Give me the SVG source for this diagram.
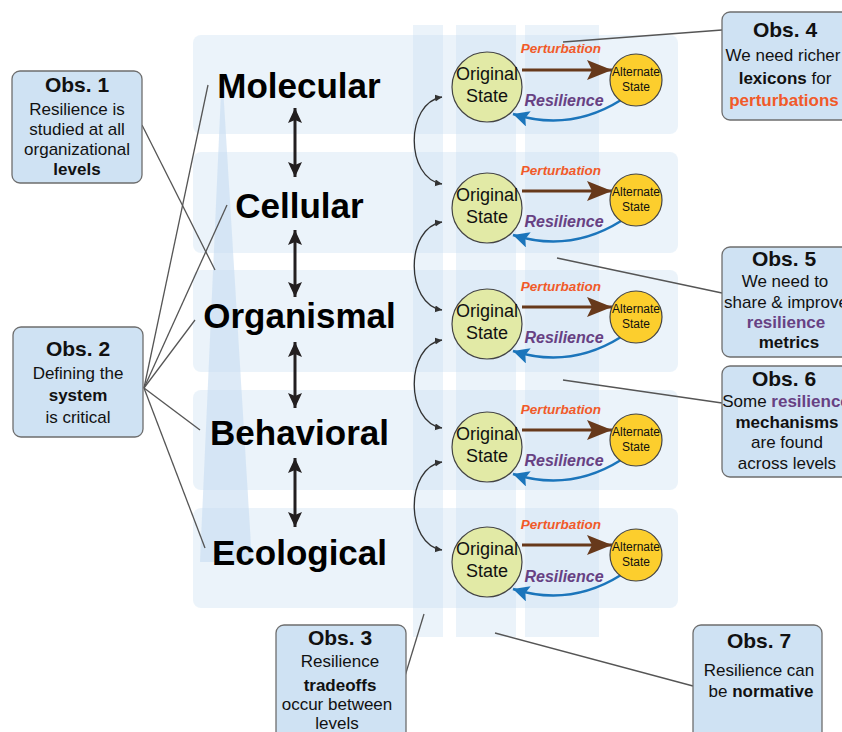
<svg xmlns="http://www.w3.org/2000/svg" width="842" height="732" viewBox="0 0 842 732">
<defs>
<style>
.band{fill:#c6dcf2;fill-opacity:0.35}
.col{fill:#c6dcf2;fill-opacity:0.35}
.tri{fill:#c6dcf2;fill-opacity:0.6}
.lvl{font-family:"Liberation Sans",Arial,sans-serif;font-weight:bold;font-size:35px;fill:#000;text-anchor:middle}
.obs{fill:#cfe2f3;stroke:#6e6e6e;stroke-width:1.3}
.ot{font-family:"Liberation Sans",Arial,sans-serif;font-size:21px;font-weight:bold;fill:#111;text-anchor:middle}
.ob{font-family:"Liberation Sans",Arial,sans-serif;font-size:17px;fill:#111;text-anchor:middle}
.b{font-weight:bold}
.orng{fill:#f15a29;font-weight:bold}
.purp{fill:#674183;font-weight:bold}
.orig{fill:#e2eaa6;stroke:#444;stroke-width:1.2}
.alt{fill:#fcce2d;stroke:#444;stroke-width:1.2}
.os{font-family:"Liberation Sans",Arial,sans-serif;font-size:18px;fill:#111;text-anchor:middle}
.as{font-family:"Liberation Sans",Arial,sans-serif;font-size:12px;fill:#111;text-anchor:middle}
.pl{font-family:"Liberation Sans",Arial,sans-serif;font-size:13.5px;font-weight:bold;font-style:italic;fill:#f15a29;text-anchor:middle}
.rl{font-family:"Liberation Sans",Arial,sans-serif;font-size:16px;font-weight:bold;font-style:italic;fill:#674183;text-anchor:middle}
.pert{stroke:#67391b;stroke-width:3;fill:none;marker-end:url(#aBrown)}
.res{stroke:#1b75bb;stroke-width:2.5;fill:none;marker-end:url(#aBlue)}
.dbl{stroke:#231f20;stroke-width:3;fill:none;marker-start:url(#aBlack);marker-end:url(#aBlack)}
.crv{stroke:#333;stroke-width:1.3;fill:none;marker-start:url(#aSmall);marker-end:url(#aSmall)}
.ln{stroke:#555;stroke-width:1.3;fill:none}
</style>
<marker id="aBlack" markerUnits="userSpaceOnUse" markerWidth="16" markerHeight="14" refX="15" refY="7" orient="auto-start-reverse"><path d="M0,0 L15,7 L0,14 L3,7 z" fill="#231f20"/></marker>
<marker id="aBrown" markerUnits="userSpaceOnUse" markerWidth="26" markerHeight="22" refX="25" refY="10" orient="auto"><path d="M0,0 L25,10 L0,20 L5,10 z" fill="#67391b"/></marker>
<marker id="aBlue" markerUnits="userSpaceOnUse" markerWidth="18" markerHeight="18" refX="16" refY="8" orient="auto"><path d="M0,0 L16,8 L0,16 L3,8 z" fill="#1b75bb"/></marker>
<marker id="aSmall" markerUnits="userSpaceOnUse" markerWidth="8" markerHeight="8" refX="7" refY="3.5" orient="auto-start-reverse"><path d="M0,0 L7,3.5 L0,7 z" fill="#333"/></marker>
</defs>

<g id="background">
<rect class="band" x="193" y="35" width="485" height="99" rx="8"/>
<rect class="band" x="193" y="152" width="485" height="101" rx="8"/>
<rect class="band" x="193" y="270" width="485" height="102" rx="8"/>
<rect class="band" x="193" y="390" width="485" height="100" rx="8"/>
<rect class="band" x="193" y="508" width="485" height="100" rx="8"/>
<rect class="col" x="413" y="25" width="30" height="612"/>
<rect class="col" x="456" y="25" width="60" height="612"/>
<rect class="col" x="525" y="25" width="74" height="612"/>
<polygon class="tri" points="222,70 252,562 200,562"/>
</g>

<g id="connectors">
<line class="ln" x1="142" y1="125" x2="215" y2="270"/>
<line class="ln" x1="144" y1="388" x2="208" y2="85"/>
<line class="ln" x1="144" y1="388" x2="227" y2="205"/>
<line class="ln" x1="144" y1="388" x2="195" y2="320"/>
<line class="ln" x1="144" y1="388" x2="200" y2="430"/>
<line class="ln" x1="144" y1="388" x2="205" y2="548"/>
<line class="ln" x1="405" y1="676" x2="424" y2="614"/>
<line class="ln" x1="563" y1="42" x2="722" y2="30"/>
<line class="ln" x1="557" y1="258" x2="722" y2="293"/>
<line class="ln" x1="563" y1="380" x2="722" y2="403"/>
<line class="ln" x1="495" y1="633" x2="693" y2="686"/>
<line class="dbl" x1="295" y1="108" x2="295" y2="177"/>
<line class="dbl" x1="295" y1="230" x2="295" y2="297"/>
<line class="dbl" x1="295" y1="342" x2="295" y2="408"/>
<line class="dbl" x1="295" y1="458" x2="295" y2="527"/>
<path class="crv" d="M442,97 C405,103 405,178 442,184"/>
<path class="crv" d="M442,222 C405,228 405,304 442,310"/>
<path class="crv" d="M442,340 C405,346 405,422 442,428"/>
<path class="crv" d="M442,462 C405,468 405,544 442,550"/>
<path class="pert" d="M522,70 L612,70"/>
<path class="pert" d="M522,191 L612,191"/>
<path class="pert" d="M522,307 L612,307"/>
<path class="pert" d="M522,430 L612,430"/>
<path class="pert" d="M522,545 L612,545"/>
<path class="res" d="M621,100 Q570,132 513,114"/>
<path class="res" d="M621,221 Q570,253 513,235"/>
<path class="res" d="M621,337 Q570,369 513,351"/>
<path class="res" d="M621,460 Q570,492 513,474"/>
<path class="res" d="M621,575 Q570,607 513,589"/>
</g>

<g id="level-molecular"><text class="lvl" x="299" y="98">Molecular</text></g>
<g id="level-cellular"><text class="lvl" x="299.5" y="218">Cellular</text></g>
<g id="level-organismal"><text class="lvl" x="299.5" y="328">Organismal</text></g>
<g id="level-behavioral"><text class="lvl" x="299.5" y="445">Behavioral</text></g>
<g id="level-ecological"><text class="lvl" x="299.5" y="565">Ecological</text></g>

<g id="row1-labels"><text class="pl" x="561" y="53">Perturbation</text><text class="rl" x="564" y="106">Resilience</text></g>
<g id="row2-labels"><text class="pl" x="561" y="175">Perturbation</text><text class="rl" x="564" y="227">Resilience</text></g>
<g id="row3-labels"><text class="pl" x="561" y="291">Perturbation</text><text class="rl" x="564" y="343">Resilience</text></g>
<g id="row4-labels"><text class="pl" x="561" y="414">Perturbation</text><text class="rl" x="564" y="466">Resilience</text></g>
<g id="row5-labels"><text class="pl" x="561" y="529">Perturbation</text><text class="rl" x="564" y="582">Resilience</text></g>

<g id="orig1"><circle class="orig" cx="487" cy="87" r="35"/><text class="os" x="487" y="80">Original</text><text class="os" x="487" y="102">State</text></g>
<g id="orig2"><circle class="orig" cx="487" cy="208" r="35"/><text class="os" x="487" y="201">Original</text><text class="os" x="487" y="223">State</text></g>
<g id="orig3"><circle class="orig" cx="487" cy="324" r="35"/><text class="os" x="487" y="317">Original</text><text class="os" x="487" y="339">State</text></g>
<g id="orig4"><circle class="orig" cx="487" cy="447" r="35"/><text class="os" x="487" y="440">Original</text><text class="os" x="487" y="462">State</text></g>
<g id="orig5"><circle class="orig" cx="487" cy="562" r="35"/><text class="os" x="487" y="555">Original</text><text class="os" x="487" y="577">State</text></g>

<g id="alt1"><circle class="alt" cx="636" cy="80" r="26"/><text class="as" x="636" y="76">Alternate</text><text class="as" x="636" y="91">State</text></g>
<g id="alt2"><circle class="alt" cx="636" cy="200" r="26"/><text class="as" x="636" y="196">Alternate</text><text class="as" x="636" y="211">State</text></g>
<g id="alt3"><circle class="alt" cx="636" cy="317" r="26"/><text class="as" x="636" y="313">Alternate</text><text class="as" x="636" y="328">State</text></g>
<g id="alt4"><circle class="alt" cx="636" cy="440" r="26"/><text class="as" x="636" y="436">Alternate</text><text class="as" x="636" y="451">State</text></g>
<g id="alt5"><circle class="alt" cx="636" cy="555" r="26"/><text class="as" x="636" y="551">Alternate</text><text class="as" x="636" y="566">State</text></g>

<g id="obs1"><rect class="obs" x="12" y="71" width="130" height="112" rx="8"/>
<text class="ot" x="77" y="92">Obs. 1</text>
<text class="ob" x="77" y="115">Resilience is</text>
<text class="ob" x="77" y="135">studied at all</text>
<text class="ob" x="77" y="155">organizational</text>
<text class="ob b" x="77" y="175">levels</text></g>

<g id="obs2"><rect class="obs" x="13" y="327" width="130" height="110" rx="8"/>
<text class="ot" x="78" y="356">Obs. 2</text>
<text class="ob" x="78" y="379">Defining the</text>
<text class="ob b" x="78" y="401">system</text>
<text class="ob" x="78" y="423">is critical</text></g>

<g id="obs3"><rect class="obs" x="276" y="625" width="130" height="120" rx="8"/>
<text class="ot" x="340" y="645">Obs. 3</text>
<text class="ob" x="340" y="667">Resilience</text>
<text class="ob b" x="340" y="691">tradeoffs</text>
<text class="ob" x="337" y="710">occur between</text>
<text class="ob" x="337" y="729">levels</text></g>

<g id="obs4"><rect class="obs" x="722" y="12" width="128" height="108" rx="8"/>
<text class="ot" x="785" y="37">Obs. 4</text>
<text class="ob" x="783" y="61">We need richer</text>
<text class="ob" x="785" y="84"><tspan class="b">lexicons</tspan> for</text>
<text class="ob orng" x="784" y="106">perturbations</text></g>

<g id="obs5"><rect class="obs" x="722" y="247" width="128" height="110" rx="8"/>
<text class="ot" x="784" y="266">Obs. 5</text>
<text class="ob" x="785" y="287">We need to</text>
<text class="ob" x="786" y="308">share &amp; improve</text>
<text class="ob purp" x="786" y="328">resilience</text>
<text class="ob b" x="789" y="348">metrics</text></g>

<g id="obs6"><rect class="obs" x="722" y="366" width="128" height="111" rx="8"/>
<text class="ot" x="784" y="386">Obs. 6</text>
<text class="ob" x="786" y="407">Some <tspan class="purp">resilience</tspan></text>
<text class="ob b" x="787" y="428">mechanisms</text>
<text class="ob" x="787" y="448">are found</text>
<text class="ob" x="787" y="469">across levels</text></g>

<g id="obs7"><rect class="obs" x="693" y="625" width="129" height="120" rx="8"/>
<text class="ot" x="759" y="648">Obs. 7</text>
<text class="ob" x="759" y="676">Resilience can</text>
<text class="ob" x="761" y="697">be <tspan class="b">normative</tspan></text></g>
</svg>
